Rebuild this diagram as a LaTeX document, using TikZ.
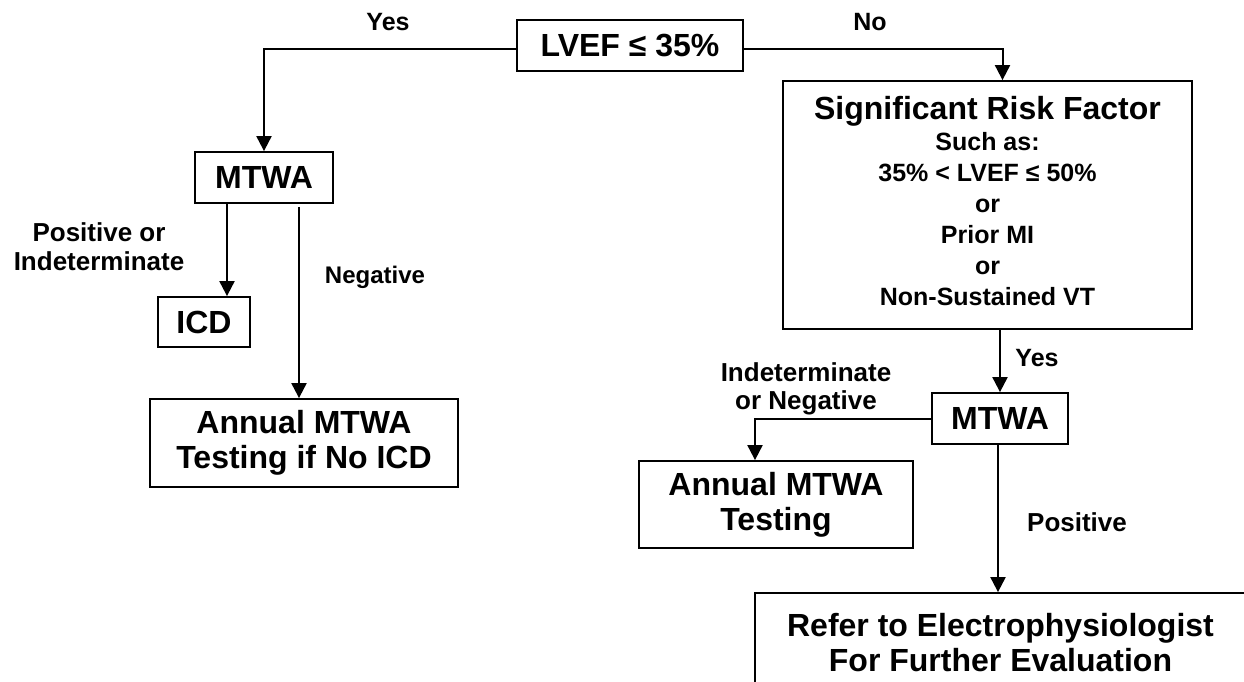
\documentclass[tikz,border=0pt]{standalone}
\usepackage{fontspec}
\setmainfont{Liberation Sans}
\usetikzlibrary{arrows.meta}
\begin{document}
\begin{tikzpicture}[x=1pt,y=-1pt]
  \tikzset{
    box/.style={draw, line width=1.8pt, inner sep=0pt, align=center,
      font=\bfseries\fontsize{32}{35}\selectfont},
    lbl/.style={align=center, inner sep=0pt, font=\bfseries\fontsize{25}{29}\selectfont},
    arr/.style={line width=2pt, -{Triangle[width=15pt,length=15pt]}},
  }
  \useasboundingbox (0,0) rectangle (1244,681);
  \node[box, line width=2.8pt, minimum width=226pt, minimum height=51pt] (lvef) at (630,45.5) {LVEF ≤ 35\%};
  \node[box, minimum width=138pt, minimum height=51pt] (mtwaL) at (264,177.5) {MTWA};
  \node[box, minimum width=92pt, minimum height=50pt] (icd) at (204,322) {ICD};
  \node[box, minimum width=308pt, minimum height=88pt] (annualL) at (304,443) {Annual MTWA\\Testing if No ICD};
  \node[box, minimum width=409pt, minimum height=248pt, font=\bfseries\fontsize{25}{31}\selectfont] (risk) at (987.5,205)
    {{\fontsize{32}{34}\selectfont Significant Risk Factor}\\Such as:\\35\% < LVEF ≤ 50\%\\or\\Prior MI\\or\\Non-Sustained VT\\[-22pt]};
  \node[box, minimum width=136pt, minimum height=51pt] (mtwaR) at (1000,418.5) {MTWA};
  \node[box, minimum width=274pt, minimum height=87pt] (annualR) at (776,504.5) {Annual MTWA\\Testing};
  \node[box, minimum width=491pt, minimum height=100pt] (refer) at (1000.5,643) {Refer to Electrophysiologist\\For Further Evaluation};
  % branch labels
  \node[lbl] (yesL) at (388,22) {Yes};
  \node[lbl] (noR) at (870,22) {No};
  \node[lbl, font=\bfseries\fontsize{26}{29}\selectfont] (posind) at (99,247) {Positive or\\Indeterminate};
  \node[lbl, font=\bfseries\fontsize{24}{29}\selectfont] (neg) at (375,277) {Negative};
  \node[lbl] (yesR) at (1037,358) {Yes};
  \node[lbl, font=\bfseries\fontsize{26}{28}\selectfont] (indneg) at (806,389) {Indeterminate\\or Negative};
  \node[lbl, font=\bfseries\fontsize{26}{29}\selectfont] (pos) at (1077,522) {Positive};
  % connectors
  \draw[arr] ([yshift=-3.5pt]lvef.west) -| (mtwaL.north);
  \draw[arr] ([yshift=-3.5pt]lvef.east) -| ([xshift=15pt]risk.north);
  \draw[arr] ([xshift=-37pt]mtwaL.south) -- ([xshift=-37pt]mtwaL.south |- icd.north);
  \draw[arr] ([xshift=35pt,yshift=-3pt]mtwaL.south) -- ([xshift=35pt]mtwaL.south |- annualL.north);
  \draw[arr] (mtwaR.north |- risk.south) -- (mtwaR.north);
  \draw[arr] (mtwaR.west) -| ([xshift=-21pt]annualR.north);
  \draw[arr] ([xshift=-2pt]mtwaR.south) -- ([xshift=-2pt]mtwaR.south |- refer.north);
\end{tikzpicture}
\end{document}
